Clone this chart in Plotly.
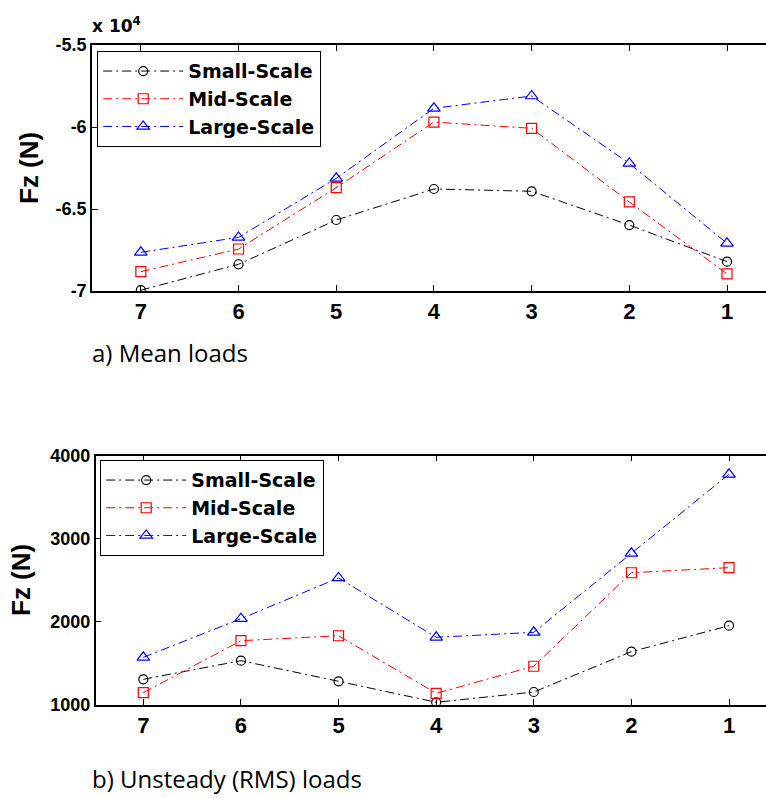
import plotly.graph_objects as go

# ---- data ----
sections = [7, 6, 5, 4, 3, 2, 1]
series_names = ["Small-Scale", "Mid-Scale", "Large-Scale"]

mean_small = [-69950, -68370, -65670, -63780, -63920, -65980, -68210]
mean_mid = [-68820, -67440, -63700, -59700, -60080, -64570, -68960]
mean_large = [-67640, -66730, -63130, -58860, -58110, -62220, -67090]

rms_small = [1306, 1530, 1282, 1029, 1153, 1639, 1952]
rms_mid = [1145, 1771, 1831, 1137, 1463, 2590, 2651]
rms_large = [1571, 2036, 2527, 1812, 1872, 2824, 3776]

mean_tickvals = [-55000, -60000, -65000, -70000]
mean_ticktext = ["-5.5", "-6", "-6.5", "-7"]
rms_tickvals = [1000, 2000, 3000, 4000]
rms_ticktext = ["1000", "2000", "3000", "4000"]

colors = ["#000000", "#ff0000", "#0000ff"]
symbols = ["circle-open", "square-open", "triangle-up-open"]
msizes = [9, 10, 11]
dash = "9px,4px,2px,4px"

W, H = 766, 798
fig = go.Figure()

FAM = "DejaVu Sans, Liberation Sans, Arial"
LIB = "Liberation Sans, Arial"
xtick_font = dict(family=LIB, size=22, color="black", weight="bold")
ytick_font = dict(family=LIB, size=18, color="black", weight="bold")
leg_font = dict(family=FAM, size=19, color="black", weight="bold")

for i, (name, ys) in enumerate(zip(series_names, [mean_small, mean_mid, mean_large])):
    fig.add_trace(go.Scatter(
        x=sections, y=ys, name=name, mode="lines+markers",
        line=dict(color=colors[i], width=1, dash=dash),
        marker=dict(symbol=symbols[i], size=msizes[i], color=colors[i], line=dict(width=1.2)),
        xaxis="x", yaxis="y", legend="legend"))

for i, (name, ys) in enumerate(zip(series_names, [rms_small, rms_mid, rms_large])):
    fig.add_trace(go.Scatter(
        x=sections, y=ys, name=name, mode="lines+markers",
        line=dict(color=colors[i], width=1, dash=dash),
        marker=dict(symbol=symbols[i], size=msizes[i], color=colors[i], line=dict(width=1.2)),
        xaxis="x2", yaxis="y2", legend="legend2"))

def px_x(p):
    return p / W

def px_y(p):
    return 1 - p / H

axis_common = dict(showline=True, linecolor="black", linewidth=1.5, ticks="inside",
                   ticklen=6, tickcolor="black", tickwidth=1.2, showgrid=False,
                   zeroline=False, automargin=False)

fig.update_layout(
    width=W, height=H, margin=dict(l=0, r=0, t=0, b=0),
    paper_bgcolor="white", plot_bgcolor="white", showlegend=True,
    xaxis=dict(domain=[px_x(92), 1], range=[7.5, 0.601], tickvals=sections,
               ticktext=[str(s) for s in sections], mirror="ticks", anchor="y",
               tickfont=xtick_font, **axis_common),
    yaxis=dict(domain=[px_y(291), px_y(45)], range=[-70000, -55000], tickvals=mean_tickvals,
               ticktext=mean_ticktext, anchor="x", tickfont=ytick_font, **axis_common),
    xaxis2=dict(domain=[px_x(95.7), 1], range=[7.488, 0.621], tickvals=sections,
                ticktext=[str(s) for s in sections], mirror="ticks", anchor="y2",
                tickfont=xtick_font, **axis_common),
    yaxis2=dict(domain=[px_y(704.7), px_y(455.7)], range=[1000, 4000], tickvals=rms_tickvals,
                ticktext=rms_ticktext, anchor="x2", tickfont=ytick_font, **axis_common),
    legend=dict(x=px_x(97), y=px_y(51), xanchor="left", yanchor="top",
                bgcolor="white", bordercolor="black", borderwidth=1.2,
                font=leg_font, itemwidth=80, tracegroupgap=0),
    legend2=dict(x=px_x(100), y=px_y(460), xanchor="left", yanchor="top",
                 bgcolor="white", bordercolor="black", borderwidth=1.2,
                 font=leg_font, itemwidth=80, tracegroupgap=0),
)

title_font = dict(family=LIB, size=26, color="black", weight="bold")
cap_font = dict(family="Open Sans", size=24, color="black")

fig.add_annotation(text="Fz (N)", x=px_x(29), y=px_y(168), xref="paper", yref="paper",
                   textangle=-90, showarrow=False, font=title_font, xanchor="center", yanchor="middle")
fig.add_annotation(text="Fz (N)", x=px_x(21), y=px_y(580), xref="paper", yref="paper",
                   textangle=-90, showarrow=False, font=title_font, xanchor="center", yanchor="middle")
fig.add_annotation(text="x 10<sup>4</sup>", x=px_x(90), y=px_y(38), xref="paper", yref="paper",
                   showarrow=False, font=dict(family=FAM, size=17, color="black", weight="bold"),
                   xanchor="left", yanchor="bottom")
fig.add_annotation(text="a) Mean loads", x=px_x(90), y=px_y(352), xref="paper", yref="paper",
                   showarrow=False, font=cap_font, xanchor="left", yanchor="middle")
fig.add_annotation(text="b) Unsteady (RMS) loads", x=px_x(90), y=px_y(778), xref="paper", yref="paper",
                   showarrow=False, font=cap_font, xanchor="left", yanchor="middle")

fig.write_html("out.html", config={"displayModeBar": False},
               post_script="document.body.style.margin='0px';")
